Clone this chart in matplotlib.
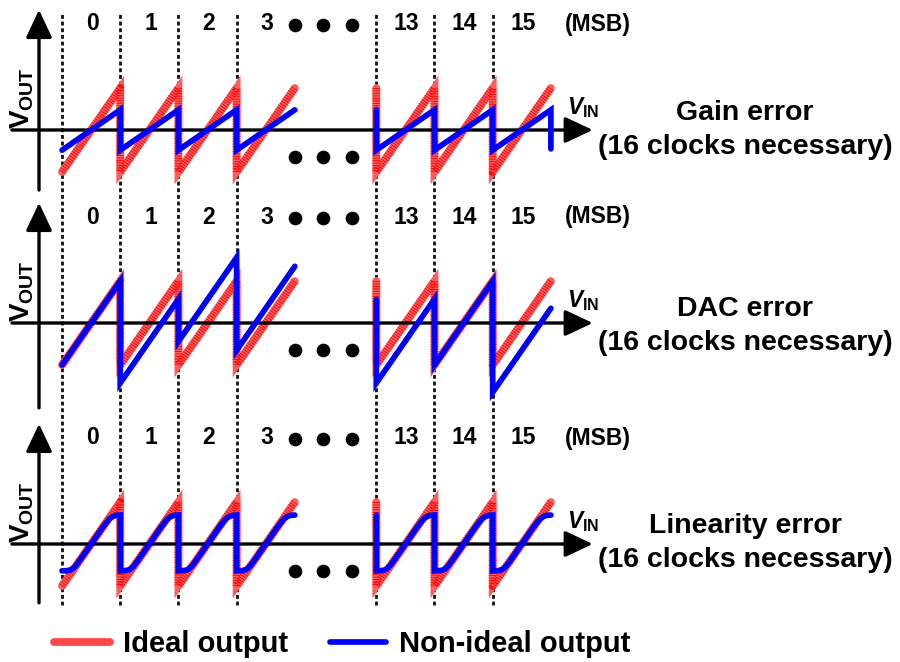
import matplotlib
matplotlib.use('Agg')
import matplotlib.pyplot as plt
import matplotlib.transforms as mtransforms
from matplotlib.lines import Line2D

plt.rcParams['font.family'] = ['Liberation Sans', 'DejaVu Sans']
plt.rcParams['font.weight'] = 'bold'
plt.rcParams['mathtext.fontset'] = 'custom'
plt.rcParams['mathtext.rm'] = 'Liberation Sans:bold'
plt.rcParams['mathtext.it'] = 'Liberation Sans:italic:bold'
plt.rcParams['mathtext.bf'] = 'Liberation Sans:bold'

# ---------------- data ----------------
segment_labels = ['0', '1', '2', '3', '13', '14', '15']
segment_ids = [0, 1, 2, 3, 13, 14, 15]
panel_titles = ['Gain error', 'DAC error', 'Linearity error']
panel_subtitle = '(16 clocks necessary)'
msb_label = '(MSB)'
legend_labels = ['Ideal output', 'Non-ideal output']

# ideal residue ramp per segment (normalised units)
ideal_low, ideal_high = -1.0, 1.0
# gain error: reduced ramp
gain_low, gain_high = -0.48, 0.48
gain_final_drop = -0.45
# DAC error: ramp offsets per segment
dac_offsets = [0.0, -0.43, 0.56, 0.35, -0.43, 0.0, -0.65]
dac_prev_end = 0.56          # end value of the (elided) segment 12
# linearity error: compressive ramp shape inside one segment
lin_t = [0.0, 0.08, 0.14, 0.19, 0.24, 0.30, 0.50, 0.70, 0.76, 0.81, 0.86, 0.92, 1.0]
lin_v = [-0.64, -0.635, -0.62, -0.58, -0.51, -0.40, 0.0, 0.40, 0.51, 0.59, 0.645, 0.68, 0.69]

# ---------------- layout ----------------
W, H = 900, 662
X0, SEG_W, UNIT, GAP = 62.0, 58.2, 42.0, 1.4
axis_ys = [130.0, 323.0, 544.0]
yaxis_bottom = [-1.43, -2.02, -1.40]
yaxis_top = 2.86
xaxis_left, xaxis_right = -0.86, 9.12
yaxis_x = -0.395
dots_p = [4.0, 4.49, 4.98]
RED_BASE = '#ff5c5c'
RED_HATCH = '#ff0000'
BLUE = '#0000ff'
RED_LW = 5.6
BLUE_LW = 4.1

positions = [i + (GAP if sid >= 13 else 0.0) for i, sid in enumerate(segment_ids)]
groups = [[i for i, s in enumerate(segment_ids) if s < 13],
          [i for i, s in enumerate(segment_ids) if s >= 13]]

fig = plt.figure(figsize=(W / 100, H / 100), dpi=100)
ax = fig.add_axes([0, 0, 1, 1])
ax.set_xlim(0, W)
ax.set_ylim(H, 0)
ax.axis('off')


def panel_transform(ay):
    return mtransforms.Affine2D().scale(SEG_W, -UNIT).translate(X0, ay) + ax.transData


def draw_red(xs, ys, T):
    ax.plot(xs, ys, color=RED_BASE, lw=RED_LW, solid_capstyle='round',
            solid_joinstyle='miter', transform=T, zorder=2)
    ax.plot(xs, ys, color=RED_HATCH, lw=RED_LW, linestyle=(0, (0.12, 0.2)),
            dash_capstyle='butt', transform=T, zorder=2.1, alpha=0.9)


def draw_blue(xs, ys, T):
    ax.plot(xs, ys, color=BLUE, lw=BLUE_LW, solid_capstyle='round',
            solid_joinstyle='miter', transform=T, zorder=4)


# vertical dashed segment boundaries spanning all panels
T1 = panel_transform(axis_ys[0])
ax.vlines(positions, (axis_ys[0] - 605) / UNIT, (axis_ys[0] - 13) / UNIT,
          colors='#111111', lw=2.0, linestyles=[(0, (1.4, 1.0))], transform=T1, zorder=1)

for pidx, ay in enumerate(axis_ys):
    T = panel_transform(ay)

    # axes with arrows
    arrow = dict(arrowstyle='-|>,head_length=0.85,head_width=0.4', lw=2.4, color='k',
                 mutation_scale=20, shrinkA=0, shrinkB=0)
    ax.annotate('', xy=(xaxis_right, 0), xytext=(xaxis_left, 0),
                xycoords=T, textcoords=T, arrowprops=arrow, zorder=3)
    ax.annotate('', xy=(yaxis_x, yaxis_top), xytext=(yaxis_x, yaxis_bottom[pidx]),
                xycoords=T, textcoords=T, arrowprops=arrow, zorder=3)

    for g, grp in enumerate(groups):
        lead = (g == 1)
        # ideal output
        rx, ry = [], []
        if lead:
            rx.append(positions[grp[0]]); ry.append(ideal_high)
        for i in grp:
            rx += [positions[i], positions[i] + 1]
            ry += [ideal_low, ideal_high]
        draw_red(rx, ry, T)

        # non-ideal output
        bx, by = [], []
        if pidx == 0:
            if lead:
                bx.append(positions[grp[0]]); by.append(gain_high)
            for i in grp:
                bx += [positions[i], positions[i] + 1]
                by += [gain_low, gain_high]
            if lead:
                bx.append(positions[grp[-1]] + 1); by.append(gain_final_drop)
        elif pidx == 1:
            if lead:
                bx.append(positions[grp[0]]); by.append(dac_prev_end)
            for i in grp:
                bx += [positions[i], positions[i] + 1]
                by += [ideal_low + dac_offsets[i], ideal_high + dac_offsets[i]]
        else:
            if lead:
                bx.append(positions[grp[0]]); by.append(lin_v[-1])
            for i in grp:
                bx += [positions[i] + t for t in lin_t]
                by += list(lin_v)
        draw_blue(bx, by, T)

    # segment numbers
    for i, lab in enumerate(segment_labels):
        ax.text(positions[i] + 0.52, 99.5 / UNIT, lab, transform=T, ha='center',
                va='baseline', fontsize=16.5, fontweight='bold')
    ax.text(9.2, 99.5 / UNIT, msb_label, transform=T, ha='center', va='baseline',
            fontsize=16.5, fontweight='bold')

    # ellipsis dots
    for yy in (105.5 / UNIT, -26.5 / UNIT):
        ax.plot(dots_p, [yy] * len(dots_p), 'o', color='k', ms=8.8, transform=T,
                zorder=5)

    # axis labels
    ax.text(8.68, 15.5 / UNIT, r'$V_{\mathrm{IN}}$', transform=T, ha='left',
            va='baseline', fontsize=16.5)
    ax.text(22, ay - 32, r'$\mathrm{V}_{\mathrm{OUT}}$', ha='center', va='center',
            rotation=90, fontsize=20)

# right-hand descriptions (pixel coordinates)
title_baselines = [120, 316, 533]
for title, yb in zip(panel_titles, title_baselines):
    ax.text(745, yb, title, ha='center', va='baseline', fontsize=20.5, fontweight='bold')
    ax.text(745, yb + 34, panel_subtitle, ha='center', va='baseline', fontsize=20.5,
            fontweight='bold')

# legend
red_h = Line2D([], [], color='#ff4848', lw=RED_LW, solid_capstyle='round')
blue_h = Line2D([], [], color=BLUE, lw=BLUE_LW, solid_capstyle='round')
fig.legend(handles=[red_h, blue_h], labels=legend_labels,
           loc='center left', bbox_to_anchor=(54 / W, 1 - 644 / H), ncol=2,
           frameon=False, handlelength=1.92, handletextpad=0.45,
           columnspacing=1.44, borderpad=0, borderaxespad=0,
           prop={'weight': 'bold', 'size': 21})

fig.savefig('out.png', dpi=100)
